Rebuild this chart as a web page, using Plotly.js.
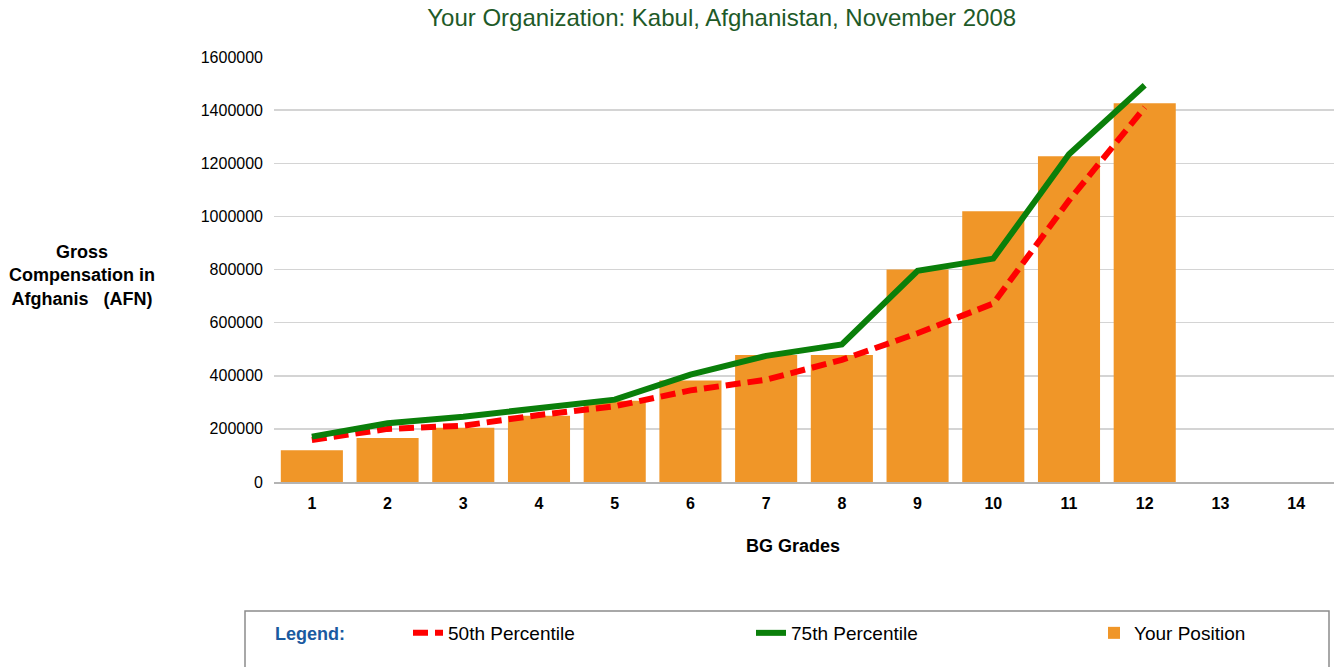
<!DOCTYPE html>
<html>
<head>
<meta charset="utf-8">
<script src="https://cdn.plot.ly/plotly-3.0.1.min.js"></script>
<style>
  html, body { margin: 0; padding: 0; background: #fff; }
  #plot { width: 1334px; height: 667px; }
</style>
</head>
<body>
<div id="plot"></div>
<script>
// BG grades on the x axis
var grades = ["1", "2", "3", "4", "5", "6", "7", "8", "9", "10", "11", "12", "13", "14"];

// Your position (bars)
var yourPosition = [120000, 166000, 204000, 249000, 306000, 382000, 478000, 478000,
  800000, 1019000, 1226000, 1426000, 0, 0];

// 50th percentile (red dashed)
var p50 = [158000, 200000, 212000, 252000, 285000, 345000, 385000, 460000,
  560000, 672000, 1060000, 1410000, null, null];

// 75th percentile (green)
var p75 = [171000, 221000, 246000, 277000, 310000, 404000, 475000, 518000,
  795000, 841000, 1234000, 1494000, null, null];

var yTicks = [0, 200000, 400000, 600000, 800000, 1000000, 1200000, 1400000, 1600000];

var trace50 = {
  x: grades,
  y: p50,
  name: "50th Percentile",
  type: "scatter",
  mode: "lines",
  line: { color: "#ff0000", width: 6, dash: "15px,7px" },
  hoverinfo: "skip"
};

var trace75 = {
  x: grades,
  y: p75,
  name: "75th Percentile",
  type: "scatter",
  mode: "lines",
  line: { color: "#0a7f0a", width: 6 },
  hoverinfo: "skip"
};

var traceBars = {
  x: grades,
  y: yourPosition,
  name: "Your Position",
  type: "bar",
  marker: { color: "#f09628" },
  hoverinfo: "skip"
};

// pixel helpers for the plot box (l=274, r=0, t=57, b=185)
function px(x) { return (x - 274) / 1060; }
function py(y) { return (482 - y) / 425; }

var layout = {
  width: 1334,
  height: 667,
  margin: { l: 274, r: 0, t: 57, b: 185, autoexpand: false },
  paper_bgcolor: "#ffffff",
  plot_bgcolor: "#ffffff",
  font: { family: "Liberation Sans, Arial, sans-serif", color: "#000" },
  title: {
    text: "Your Organization: Kabul, Afghanistan, November 2008",
    font: { size: 24, color: "#1e5a28" },
    x: 0.541, xanchor: "center",
    y: 0.973, yanchor: "middle"
  },
  bargap: 0.18,
  showlegend: true,
  xaxis: {
    type: "category",
    showgrid: false,
    showline: true,
    linecolor: "#b4b4b4",
    linewidth: 2,
    ticks: "",
    ticklabelstandoff: 6,
    tickfont: { size: 16, weight: "bold" },
    fixedrange: true
  },
  yaxis: {
    range: [0, 1600000],
    tickvals: yTicks,
    tickformat: "d",
    showgrid: true,
    gridcolor: "#d4d4d4",
    gridwidth: 1.5,
    zeroline: false,
    ticks: "",
    ticklabelstandoff: 10,
    tickfont: { size: 16 },
    fixedrange: true
  },
  legend: {
    orientation: "h",
    x: px(408), xanchor: "left",
    y: py(614), yanchor: "top",
    entrywidth: 298,
    bgcolor: "rgba(0,0,0,0)",
    borderwidth: 0,
    font: { size: 19 },
    traceorder: "normal"
  },
  shapes: [{
    type: "rect", xref: "paper", yref: "paper",
    x0: px(245), x1: px(1329), y0: py(700), y1: py(611),
    line: { color: "#8c8c8c", width: 1.5 },
    fillcolor: "rgba(0,0,0,0)",
    layer: "below"
  }],
  annotations: [
    {
      text: "Gross<br>Compensation in<br>Afghanis &nbsp;&nbsp;(AFN)",
      xref: "paper", yref: "paper",
      x: px(82), y: py(275),
      xanchor: "center", yanchor: "middle",
      showarrow: false,
      font: { size: 18, weight: "bold" },
      align: "center"
    },
    {
      text: "BG Grades",
      xref: "paper", yref: "paper",
      x: px(793), y: py(546),
      xanchor: "center", yanchor: "middle",
      showarrow: false,
      font: { size: 18, weight: "bold" }
    },
    {
      text: "Legend:",
      xref: "paper", yref: "paper",
      x: px(273), y: py(634),
      xanchor: "left", yanchor: "middle",
      showarrow: false,
      font: { size: 18, weight: "bold", color: "#1a5aa0" }
    }
  ]
};

Plotly.newPlot("plot", [trace50, trace75, traceBars], layout, { displayModeBar: false, staticPlot: true });
</script>
</body>
</html>
